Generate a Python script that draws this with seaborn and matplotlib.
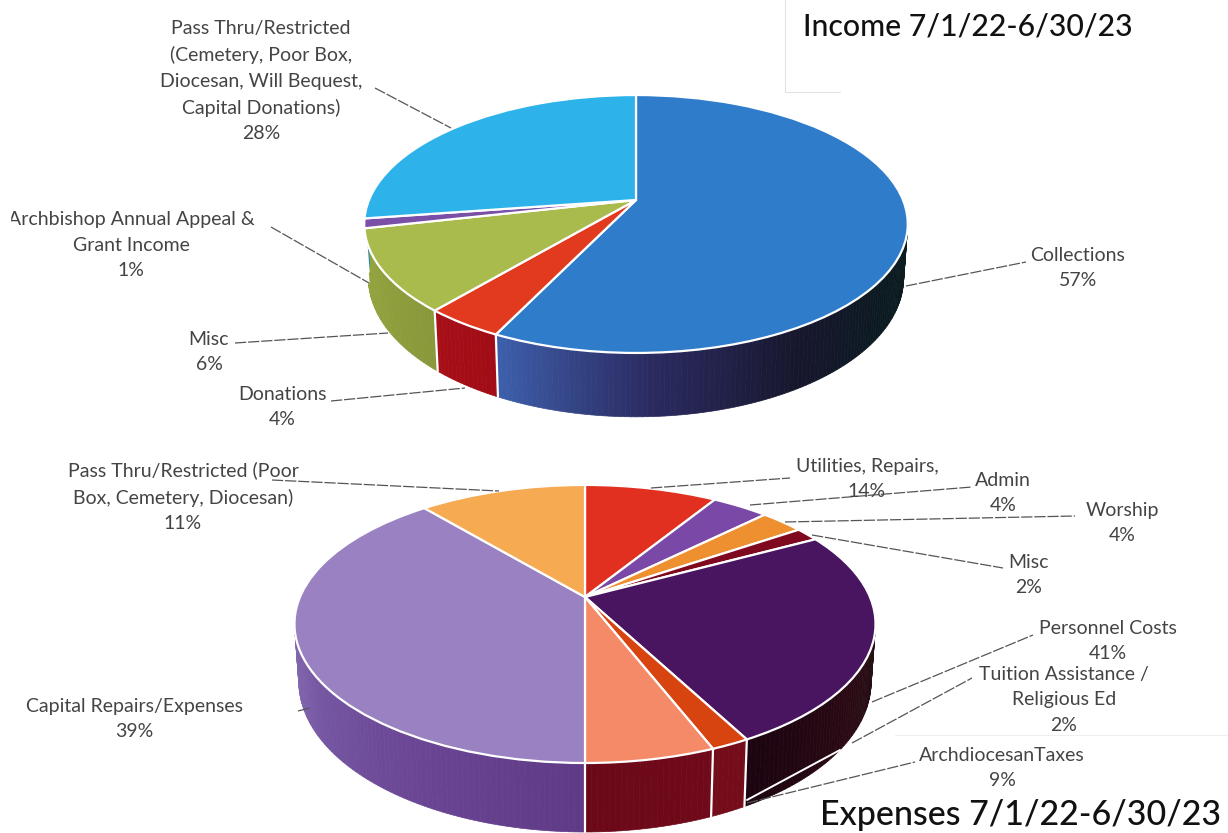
import numpy as np
import matplotlib
matplotlib.use('Agg')
import matplotlib.pyplot as plt
from matplotlib.transforms import Transform
import seaborn as sns

# slice sizes are read off the drawing, the printed percents don't add up to 100
income_sizes = [57.2, 4.0, 10.3, 1.2, 27.3]
income_labels = ['Collections\n57%', 'Donations\n4%', 'Misc\n6%',
                 'Archbishop Annual Appeal &\nGrant Income\n1%',
                 'Pass Thru/Restricted\n(Cemetery, Poor Box,\nDiocesan, Will Bequest,\nCapital Donations)\n28%']
income_top = ['#2f7ccb', '#e23a1e', '#a9bb4c', '#7a4fa8', '#2db3ea']
income_side = [['#3d5fab', '#2b2b62', '#17172e', '#0a1a20', '#0c1c20'], ['#a80f17', '#a00c16'],
               ['#97a63f', '#88983a'], ['#5a3a80', '#5a3a80'], ['#1f8ab8', '#1f8ab8']]

expense_sizes = [8.9, 3.8, 2.9, 1.6, 25.0, 1.8, 6.0, 38.8, 11.2]
expense_labels = ['Utilities, Repairs,\n14%', 'Admin\n4%', 'Worship\n4%', 'Misc\n2%',
                  'Personnel Costs\n41%', 'Tuition Assistance /\nReligious Ed\n2%',
                  'ArchdiocesanTaxes\n9%', 'Capital Repairs/Expenses\n39%',
                  'Pass Thru/Restricted (Poor\nBox, Cemetery, Diocesan)\n11%']
expense_top = ['#e1301f', '#7a48a6', '#ee9030', '#7f0a20', '#4a1560', '#d8440f', '#f58a68', '#9a82c2', '#f6aa52']
expense_side = [['#a01010', '#a01010'], ['#5a3a80', '#5a3a80'], ['#b06a20', '#b06a20'], ['#60081a', '#60081a'],
                ['#1c0410', '#2a0a14', '#241214'], ['#750c1a', '#750c1a'], ['#6c0818', '#700a1a'],
                ['#8a74b8', '#7556a2', '#6a4594', '#5f3a85'], ['#b07a30', '#b07a30']]

income_title = 'Income 7/1/22-6/30/23'
expense_title = 'Expenses 7/1/22-6/30/23'

sns.set_theme(style='white')
plt.rcParams['font.family'] = ['Lato', 'DejaVu Sans']


class Tilt(Transform):
    # unit circle -> tilted disc in pixel coords
    input_dims = 2
    output_dims = 2
    is_separable = False
    has_inverse = False

    def __init__(self, cx, cy, rx, ry, k):
        super().__init__()
        self.cx, self.cy, self.rx, self.ry, self.k = cx, cy, rx, ry, k

    def transform_non_affine(self, xy):
        xy = np.asarray(xy)
        v = -xy[:, 1]
        w = 1 - self.k * v
        return np.column_stack([self.cx + self.rx * xy[:, 0] / w, self.cy + self.ry * v / w])


fig = plt.figure(figsize=(12.28, 8.33), dpi=100)
ax = fig.add_axes([0, 0, 1, 1])


def draw_pie(sizes, top, side, cx, cy, rx, ry, k, depth):
    tilt = Tilt(cx, cy, rx, ry, k)
    wedges, _ = ax.pie(sizes, colors=sns.color_palette(top), startangle=90, counterclock=False,
                       wedgeprops=dict(edgecolor='white', linewidth=1.6, zorder=3))

    def rim(deg):
        deg = np.atleast_1d(deg)
        pts = tilt.transform(np.column_stack([np.cos(np.radians(deg)), np.sin(np.radians(deg))]))
        w = 1 + k * np.sin(np.radians(deg))
        low = np.column_stack([cx + (pts[:, 0] - cx) * 0.985, pts[:, 1] + depth / w])
        return pts, low

    for wedge, cols in zip(wedges, side):
        wedge.set_transform(tilt + ax.transData)
        a1, a2 = wedge.theta1, wedge.theta2
        # only the front of the wall shows, gradient runs over that part
        angles = np.append(np.arange(a1, a2, 1.0), a2)
        angles = angles[np.sin(np.radians(angles)) < -0.08]
        if len(angles) < 2:
            continue
        shades = sns.blend_palette(cols, n_colors=len(angles) - 1)
        for i in range(len(angles) - 1):
            up, low = rim(angles[i:i + 2])
            poly = np.vstack([up, low[::-1]])
            ax.fill(poly[:, 0], poly[:, 1], color=shades[i], lw=0.5, zorder=1)
        if np.sin(np.radians(a1)) < -0.08:
            up, low = rim(a1)
            ax.plot([up[0, 0], low[0, 0]], [up[0, 1], low[0, 1]], color='white', lw=1.6, zorder=2)


draw_pie(income_sizes, income_top, income_side, 636, 200, 267, 124.5, 0.186, 52)
draw_pie(expense_sizes, expense_top, expense_side, 585, 597, 285, 133.8, 0.194, 55.6)

ax.set_aspect('auto')
ax.set_xlim(0, 1228)
ax.set_ylim(833, 0)
ax.axis('off')

# label centres
income_xy = [(1078, 268), (282, 407), (209, 352), (131, 245), (261, 81)]
expense_xy = [(867, 479), (1003, 493), (1122, 523), (1029, 575), (1108, 641),
              (1064, 700), (1002, 768), (134, 719), (183, 497)]
for text, xy in zip(income_labels + expense_labels, income_xy + expense_xy):
    t = ax.text(xy[0], xy[1], text, ha='center', va='center', fontsize=14, color='#444444',
                linespacing=1.61, zorder=6)
ax.fill([0, 10, 10, 0], [205, 205, 232, 232], color='white', zorder=7)

leaders = [((375, 88), (451, 128)), ((271, 227), (369, 283)), ((235, 343), (388, 333)),
           ((331, 401), (465, 388)), ((906, 286), (1026, 262)), ((272, 480), (499, 491)),
           ((651, 488), (790, 478)), ((750, 505), (972, 487)), ((785, 522), (1075, 516)),
           ((812, 535), (1003, 568)), ((872, 702), (1033, 635)), ((852, 743), (972, 678)),
           ((747, 803), (915, 762)), ((298, 711), (310, 708))]
for a, b in leaders:
    ax.plot([a[0], b[0]], [a[1], b[1]], color='#555555', lw=0.9, ls=(0, (9, 1.5)), zorder=5)
ax.plot([840, 747], [750, 800], color='white', lw=1.4, zorder=4)

ax.text(803, 26, income_title, ha='left', va='center', fontsize=21.7, fontweight='medium', color='#111111', zorder=6)
ax.text(820, 815, expense_title, ha='left', va='center', fontsize=24.5, fontweight='medium', color='#111111', zorder=6)

# faint box edges left by the scan
ax.plot([785, 785, 840], [0, 92, 92], color='#e2e2e2', lw=0.8, zorder=0)
ax.plot([895, 1228], [735, 735], color='#efefef', lw=0.8, zorder=0)

fig.savefig('out.png', dpi=100, facecolor='white')
